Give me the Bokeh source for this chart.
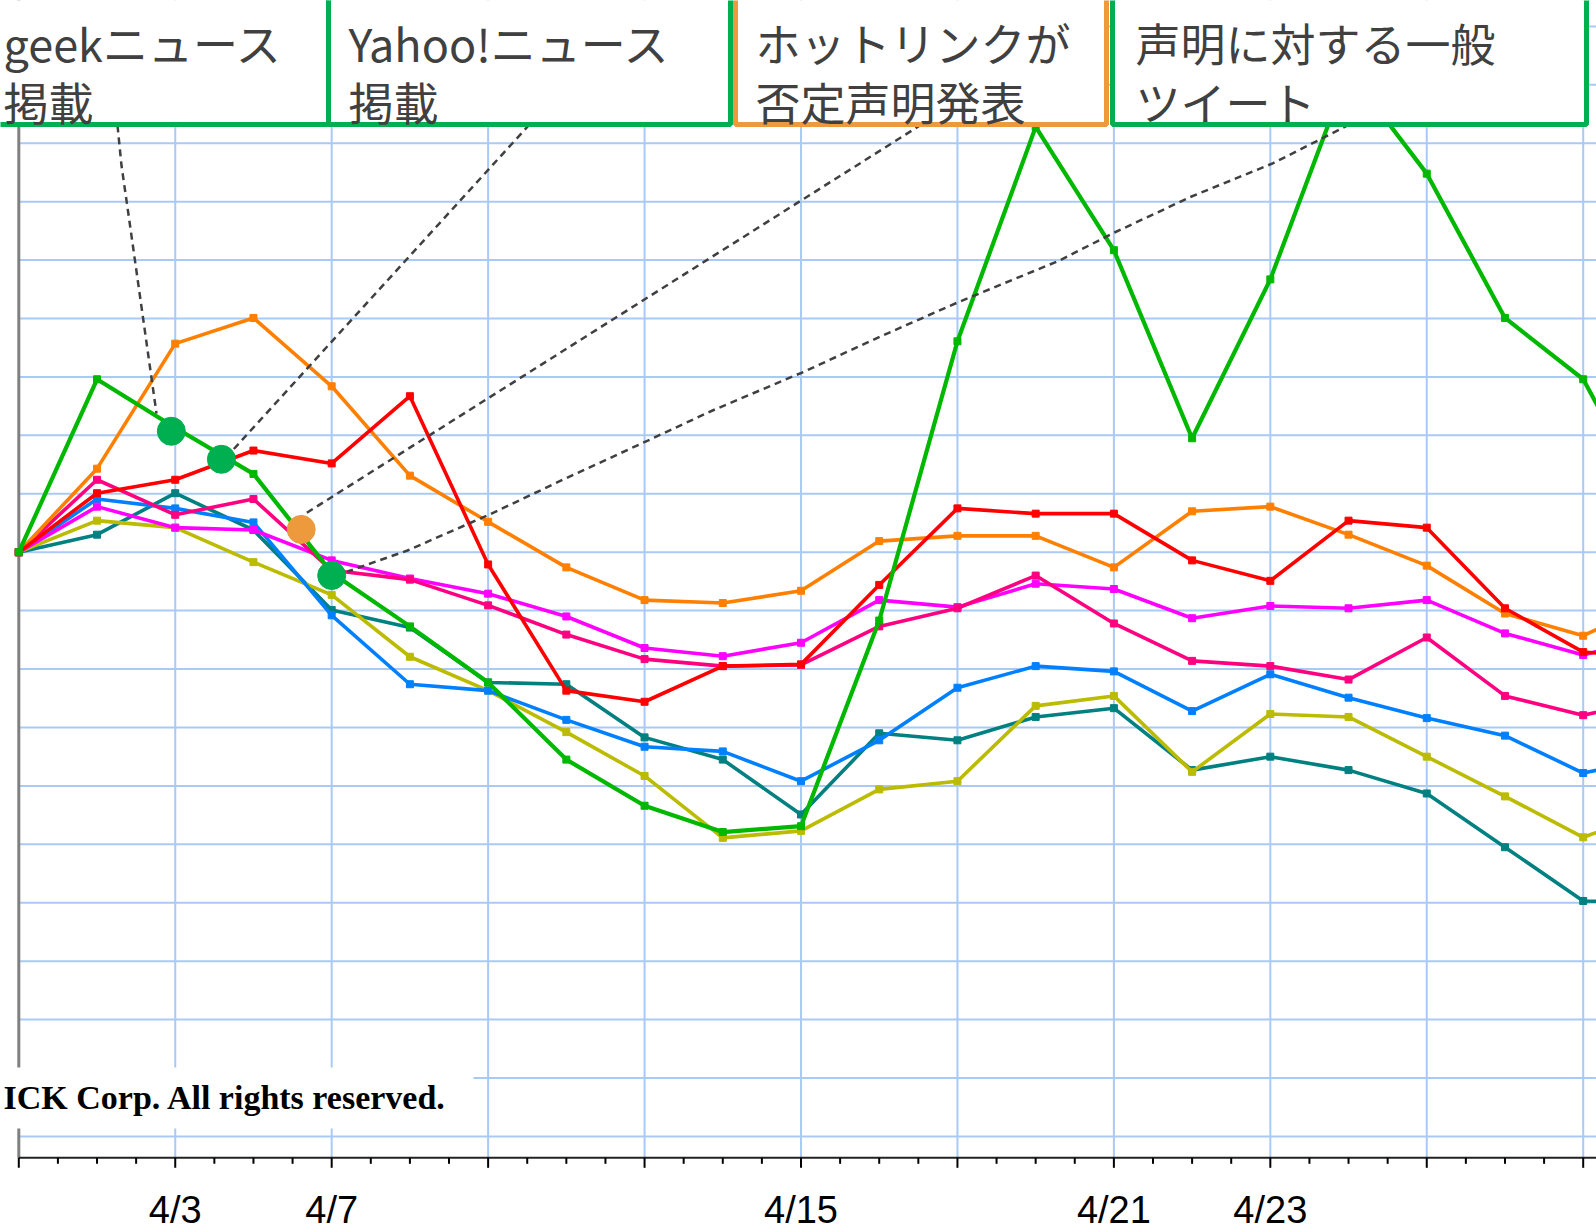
from bokeh.plotting import figure
from bokeh.models import Range1d
from bokeh.embed import file_html
from bokeh.resources import INLINE
from bokeh.core.properties import value

# ---------------- data ----------------
days = list(range(22))  # day index (0 = first day)

green   = [100, 129.6, 121.3, 113.4, 96.5, 87.3, 77.7, 64.5, 56.6, 52.1, 53.1, 88.3, 136.1, 172.8, 151.7, 119.5, 146.7, 182.4, 164.8, 140.1, 129.6, 105.0]
orange  = [100, 114.3, 135.7, 140.1, 128.4, 113.1, 105.2, 97.4, 91.8, 91.3, 93.4, 101.9, 102.8, 102.8, 97.4, 107.0, 107.8, 103.0, 97.7, 89.5, 85.7, 92.0]
red     = [100, 110.1, 112.4, 117.4, 115.2, 126.7, 97.9, 76.3, 74.4, 80.5, 80.8, 94.4, 107.5, 106.6, 106.6, 98.6, 95.1, 105.4, 104.2, 90.4, 82.9, 82.0]
pink    = [100, 112.4, 106.4, 109.1, 96.9, 95.3, 90.9, 85.9, 81.7, 80.5, 80.7, 87.3, 90.4, 96.0, 87.8, 81.4, 80.5, 78.2, 85.4, 75.4, 72.1, 75.0]
magenta = [100, 107.8, 104.2, 103.8, 98.6, 95.5, 92.9, 89.0, 83.6, 82.2, 84.5, 91.8, 90.6, 94.6, 93.7, 88.7, 90.8, 90.4, 91.8, 86.1, 82.4, 86.0]
blue    = [100, 109.1, 107.5, 105.1, 89.2, 77.4, 76.3, 71.3, 66.7, 65.9, 60.8, 67.8, 76.8, 80.5, 79.6, 72.8, 79.1, 75.1, 71.6, 68.6, 62.2, 65.0]
olive   = [100, 105.4, 104.2, 98.3, 92.7, 82.1, 76.3, 69.2, 61.7, 51.1, 52.3, 59.4, 60.8, 73.7, 75.4, 62.4, 72.3, 71.8, 65.0, 58.2, 51.2, 56.0]
teal    = [100, 103.0, 110.1, 103.8, 90.1, 87.1, 77.7, 77.4, 68.3, 64.5, 55.1, 69.0, 67.8, 71.8, 73.3, 62.7, 65.0, 62.7, 58.7, 49.5, 40.3, 40.0]

# event markers (on the green series)
event_x = [1.95, 2.59, 3.61, 4.0]
event_y = [120.7, 115.9, 103.9, 96.0]
event_kind = ["green", "green", "orange", "green"]

# annotation box texts
box_line1 = ["geekニュース", "Yahoo!ニュース", "ホットリンクが", "声明に対する一般"]
box_line2 = ["掲載", "掲載", "否定声明発表", "ツイート"]
box_kind = ["green", "green", "orange", "green"]

# custom date labels under the axis
date_pos = [2, 4, 10, 14, 16]
date_labels = ["4/3", "4/7", "4/15", "4/21", "4/23"]

copyright_text = "ICK Corp. All rights  reserved."

# ---------------- layout helpers (screen px -> data) ----------------
X0_PX, DX_PX = 18.3, 78.22     # screen x of day 0, px per day
Y0_PX, DY_PX = 1135.9, 5.842   # screen y of value 0, px per unit


def dx(px):
    return (px - X0_PX) / DX_PX


def dy(py):
    return (Y0_PX - py) / DY_PX


W, H = 1596, 1232
p = figure(width=W, height=H, output_backend="svg", toolbar_location=None,
           x_range=Range1d(dx(0), dx(W)),
           y_range=Range1d(dy(H), dy(0)),
           x_axis_type=None, y_axis_type=None, min_border=0)
p.outline_line_color = None
p.background_fill_color = "white"
p.border_fill_color = "white"

GRID = "#a9c9f6"
axis_y = dy(1157.3)
top_v = dy(-20)
right_x = dx(1620)

# grid
hgrid = list(range(0, 200, 10))
p.segment(x0=0, x1=right_x, y0=hgrid, y1=hgrid, line_color=GRID, line_width=2)
vgrid = list(range(2, 21, 2))
p.segment(x0=vgrid, x1=vgrid, y0=axis_y, y1=top_v, line_color=GRID, line_width=2)

# axes
p.segment(x0=0, x1=0, y0=axis_y, y1=top_v, line_color="#808080", line_width=3)
p.segment(x0=0, x1=right_x, y0=axis_y, y1=axis_y, line_color="#222222", line_width=2)
minor = [i * 0.5 for i in range(0, 41) if i % 4 != 0]
major = [i * 2 for i in range(0, 11)]
p.segment(x0=minor, x1=minor, y0=axis_y, y1=axis_y - 6 / DY_PX, line_color="black", line_width=2)
p.segment(x0=major, x1=major, y0=axis_y, y1=axis_y - 10 / DY_PX, line_color="black", line_width=2)

# copyright box
p.quad(left=dx(-30), right=dx(473), bottom=dy(1128), top=dy(1067), fill_color="white", line_color=None)
p.text(x=[dx(3)], y=[dy(1097)], text=[copyright_text], text_align="left", text_baseline="middle",
       text_font=value("Liberation Serif"), text_font_style="bold", text_font_size="34px", text_color="black")

# series
series = [
    (teal, "#008080"), (olive, "#bbbb00"), (blue, "#0080ff"), (magenta, "#ff00ff"),
    (pink, "#ff0080"), (orange, "#ff8000"), (red, "#ff0000"), (green, "#00b800"),
]
for vals, col in series:
    lw = 4.2 if col == "#00b800" else 3.6
    p.line(days, vals, line_color=col, line_width=lw)
    p.scatter(days, vals, marker="square", size=7, fill_color=col, line_color=col)

# dashed connector lines (box -> event)
DASH = "#404040"
conn = [
    [(117, 125), (121, 165), (127, 207), (156, 413)],
    [(529, 124), (232, 450)],
    [(921, 124), (302, 515)],
    [(1349, 124), (1272, 163), (1191, 196), (1114, 232), (1059, 260), (957, 302), (880, 336),
     (804, 371), (712, 410), (641, 443), (565, 478), (489, 514), (407, 550), (347, 571)],
]
for pts in conn:
    p.line([dx(a) for a, b in pts], [dy(b) for a, b in pts], line_color=DASH, line_width=2.5, line_dash="7 5")

KCOL = {"green": "#00b050", "orange": "#ec9a3c"}
p.scatter(event_x, event_y, size=28, fill_color=[KCOL[k] for k in event_kind],
          line_color=[KCOL[k] for k in event_kind])

# annotation boxes
box_l = [-60, 328, 735, 1112]
box_r = [328, 730, 1106, 1586]
p.quad(left=[dx(v) for v in box_l], right=[dx(v) for v in box_r],
       bottom=dy(124), top=dy(-40), fill_color="white",
       line_color=[KCOL[k] for k in box_kind], line_width=5)

text_x = [dx(3), dx(348), dx(755), dx(1135)]
p.text(x=text_x, y=[dy(42)] * 4, text=box_line1, text_baseline="middle", text_align="left",
       text_font=value("Noto Sans CJK JP"), text_font_size="45px", text_color="#404040")
p.text(x=text_x, y=[dy(101)] * 4, text=box_line2, text_baseline="middle", text_align="left",
       text_font=value("Noto Sans CJK JP"), text_font_size="45px", text_color="#404040")

# date labels
p.text(x=date_pos, y=[dy(1209)] * len(date_pos), text=date_labels, text_align="center",
       text_baseline="middle", text_font=value("Liberation Sans"), text_font_size="38px",
       text_color="black")

open("out.html", "w").write(file_html(p, INLINE))
